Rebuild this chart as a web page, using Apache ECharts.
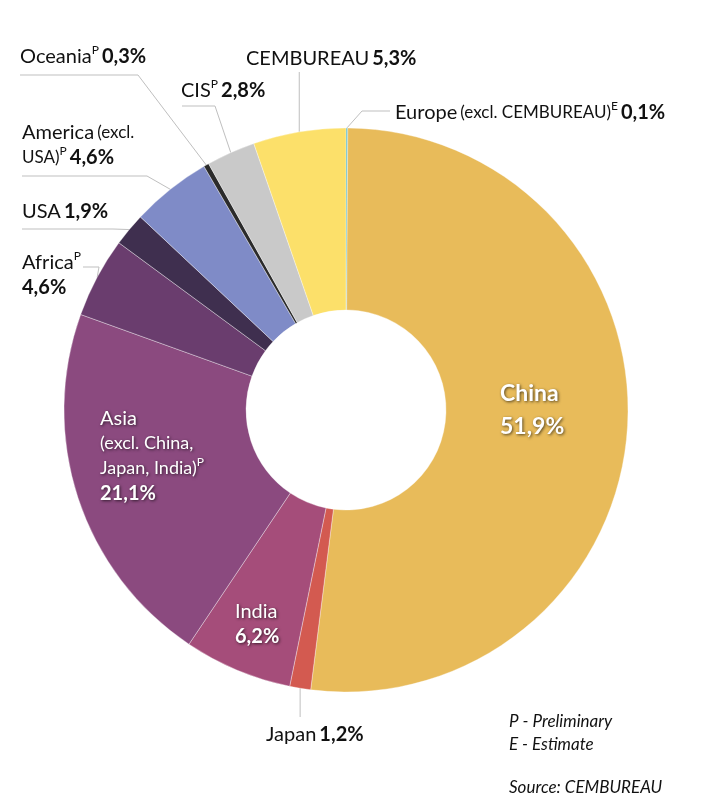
<!DOCTYPE html>
<html><head><meta charset="utf-8">
<script src="https://cdn.jsdelivr.net/npm/echarts@6/dist/echarts.min.js"></script>
<style>html,body{margin:0;padding:0;background:#fff}#c{width:728px;height:812px}</style>
</head><body><div id="c"></div>
<script>
// ---- data ----
const categories = ['Europe', 'China', 'Japan', 'India', 'Asia', 'Africa', 'USA', 'America', 'Oceania', 'CIS', 'CEMBUREAU'];
const qualifiers = ['(excl. CEMBUREAU)', '', '', '', '(excl. China, Japan, India)', '', '', '(excl. USA)', '', '', ''];
const flags = ['E', '', '', '', 'P', 'P', '', 'P', 'P', 'P', ''];
const shares = [0.1, 51.9, 1.2, 6.2, 21.1, 4.6, 1.9, 4.6, 0.3, 2.8, 5.3];
const notes = ['P - Preliminary', 'E - Estimate', 'Source: CEMBUREAU'];

// ---- style ----
const colors = ['#4AB5C4', '#E8BB5A', '#D35A50', '#A54D7A', '#8B4A7F', '#6A3D6E', '#3F2F4F', '#7F8BC7', '#2B2B2B', '#C9C9C9', '#FCE06A'];
const insideIdx = [1, 3, 4];
const FONT = 'Lato';
const shadow = { textShadowColor: 'rgba(0,0,0,0.65)', textShadowBlur: 3, textShadowOffsetX: 1, textShadowOffsetY: 1 };

function pct(i) { return shares[i].toFixed(1).replace('.', ',') + '%'; }

function labelText(i) {
  const name = categories[i], q = qualifiers[i], f = flags[i];
  const sup = f ? '{sup|' + f + '}' : '';
  const isup = f ? '{isup|' + f + '}' : '';
  const qp = q.split(' ');
  switch (i) {
    case 1: return '{ib|' + name + '}\n{ib|' + pct(i) + '}';
    case 3: return '{in|' + name + '}\n{ib2|' + pct(i) + '}';
    case 4: return '{in|' + name + '}\n{is|' + qp.slice(0, 2).join(' ') + '}\n{is|' + qp.slice(2).join(' ') + '}' + isup + '\n{ib2|' + pct(i) + '}';
    case 7: return '{n|' + name + '} {s|' + qp[0] + '}\n{s|' + qp.slice(1).join(' ') + '}' + sup + ' {b|' + pct(i) + '}';
    case 5: return '{n|' + name + '}' + sup + '\n{b|' + pct(i) + '}';
    default:
      return '{n|' + name + '}' + (q ? ' {s|' + q + '}' : '') + sup + ' {b|' + pct(i) + '}';
  }
}

// label placement (layout constants)
const place = {
  0: { x: 395, y: 100, line: (a) => [a, [362, 111], [390, 111]] },
  1: { x: 500, y: 377 },
  2: { x: 266, y: 722, line: (a) => [a, [a[0], 717]] },
  3: { x: 235, y: 599 },
  4: { x: 100, y: 406 },
  5: { x: 22, y: 250, line: (a) => [a, [99, 267], [83, 267]] },
  6: { x: 22, y: 199, line: (a) => [a, [113, 229], [22, 229]] },
  7: { x: 22, y: 120, line: (a) => [a, [147, 176], [22, 176]] },
  8: { x: 20, y: 44, line: (a) => [a, [138, 75], [20, 75]] },
  9: { x: 181, y: 78, line: (a) => [a, [215, 106], [182, 106]] },
  10: { x: 246, y: 46, line: (a) => [a, [a[0], 72]] }
};

const data = categories.map((c, i) => {
  const inside = insideIdx.indexOf(i) >= 0;
  return {
    name: c,
    value: shares[i],
    itemStyle: { color: colors[i] },
    label: { position: inside ? 'inside' : 'outside' },
    labelLine: { show: !inside }
  };
});

const chart = echarts.init(document.getElementById('c'), null, { renderer: 'canvas' });
chart.setOption({
  animation: false,
  backgroundColor: '#ffffff',
  series: [{
    type: 'pie',
    center: [346, 410],
    radius: [100, 282],
    startAngle: 90,
    clockwise: true,
    avoidLabelOverlap: false,
    silent: true,
    emphasis: { disabled: true },
    itemStyle: { borderColor: 'rgba(255,255,255,0.35)', borderWidth: 1 },
    label: {
      show: true,
      formatter: (p) => labelText(p.dataIndex),
      fontFamily: FONT,
      rich: {
        n: { fontFamily: FONT, fontSize: 20, color: '#111', lineHeight: 25 },
        s: { fontFamily: FONT, fontSize: 17, color: '#111', lineHeight: 25 },
        b: { fontFamily: FONT, fontSize: 20, fontWeight: 'bold', color: '#111', lineHeight: 25 },
        sup: { fontFamily: FONT, fontSize: 12, color: '#111', lineHeight: 17, verticalAlign: 'top' },
        ib: Object.assign({ fontFamily: FONT, fontSize: 23, fontWeight: 'bold', color: '#fff', lineHeight: 33 }, shadow),
        in: Object.assign({ fontFamily: FONT, fontSize: 20, color: '#fff', lineHeight: 25 }, shadow),
        is: Object.assign({ fontFamily: FONT, fontSize: 18, color: '#fff', lineHeight: 25 }, shadow),
        isup: Object.assign({ fontFamily: FONT, fontSize: 12, color: '#fff', lineHeight: 17, verticalAlign: 'top' }, shadow),
        ib2: Object.assign({ fontFamily: FONT, fontSize: 20, fontWeight: 'bold', color: '#fff', lineHeight: 25 }, shadow)
      }
    },
    labelLine: { show: true, lineStyle: { color: '#BFBFBF', width: 1 } },
    labelLayout: function (params) {
      const P = place[params.dataIndex];
      const out = { x: P.x, y: P.y, align: 'left', verticalAlign: 'top' };
      if (P.line && params.labelLinePoints && params.labelLinePoints.length) {
        out.labelLinePoints = P.line(params.labelLinePoints[0]);
      }
      return out;
    },
    data: data
  }],
  graphic: notes.map((t, i) => ({
    type: 'text',
    x: 509,
    y: [722, 745, 788][i],
    style: { text: t, font: 'italic 17px Lato', fill: '#111', verticalAlign: 'middle', align: 'left' }
  }))
});
</script>
</body></html>
